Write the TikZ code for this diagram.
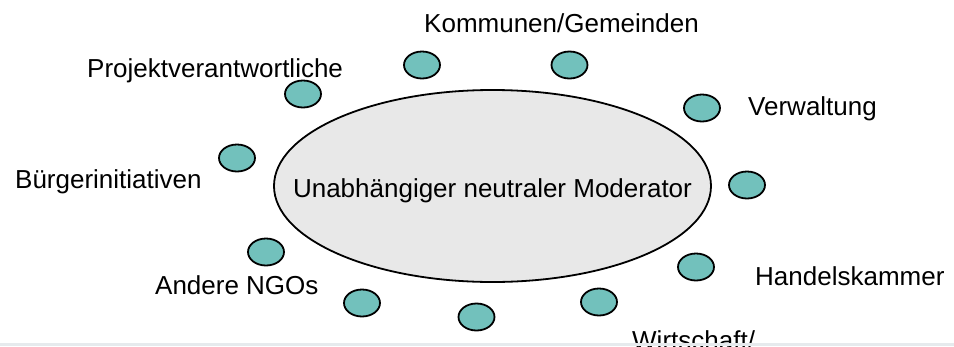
\documentclass[tikz,border=0pt]{standalone}
\usepackage{fontspec}
\setmainfont{Liberation Sans}
\usetikzlibrary{shapes.geometric}
\definecolor{tealfill}{RGB}{114,193,188}
\definecolor{centerfill}{RGB}{232,232,232}
\definecolor{bandgray}{RGB}{230,234,237}
\tikzset{
  party/.style={ellipse, draw=black, line width=1.8pt, fill=tealfill,
    minimum width=36pt, minimum height=27pt, inner sep=0pt},
  moderator/.style={ellipse, draw=black, line width=1.8pt, fill=centerfill,
    minimum width=437pt, minimum height=192pt, inner sep=0pt},
  lbl/.style={anchor=base west, inner sep=0pt, font=\fontsize{26}{30}\selectfont}
}
\begin{document}
\begin{tikzpicture}[x=1pt,y=-1pt]
\useasboundingbox (0,0) rectangle (954,346);
\fill[white] (0,0) rectangle (954,346);
% central moderator
\node[moderator] (mod) at (492.5,186) {};
\node[lbl, anchor=base] (modtext) at (492.5,197) {Unabhängiger neutraler Moderator};
% parties
\node[party] (p1) at (303,94) {};
\node[party] (p2) at (422,65) {};
\node[party] (p3) at (569.5,65) {};
\node[party] (p4) at (702,108) {};
\node[party] (p5) at (747,185) {};
\node[party] (p6) at (696,267) {};
\node[party] (p7) at (599,302) {};
\node[party] (p8) at (476.5,317) {};
\node[party] (p9) at (362,303) {};
\node[party] (p10) at (266,252) {};
\node[party] (p11) at (237,158) {};
% labels
\node[lbl] (lkom) at (424,32) {Kommunen/Gemeinden};
\node[lbl] (lproj) at (87,77) {Projektverantwortliche};
\node[lbl] (lverw) at (748,115) {Verwaltung};
\node[lbl] (lbuer) at (15,188) {Bürgerinitiativen};
\node[lbl] (lngo) at (155,294) {Andere NGOs};
\node[lbl] (lhand) at (755,285) {Handelskammer};
\node[lbl] (lwirt) at (632,349) {Wirtschaft/};
% bottom band
\fill[bandgray] (0,343) rectangle (954,346);
\end{tikzpicture}
\end{document}
